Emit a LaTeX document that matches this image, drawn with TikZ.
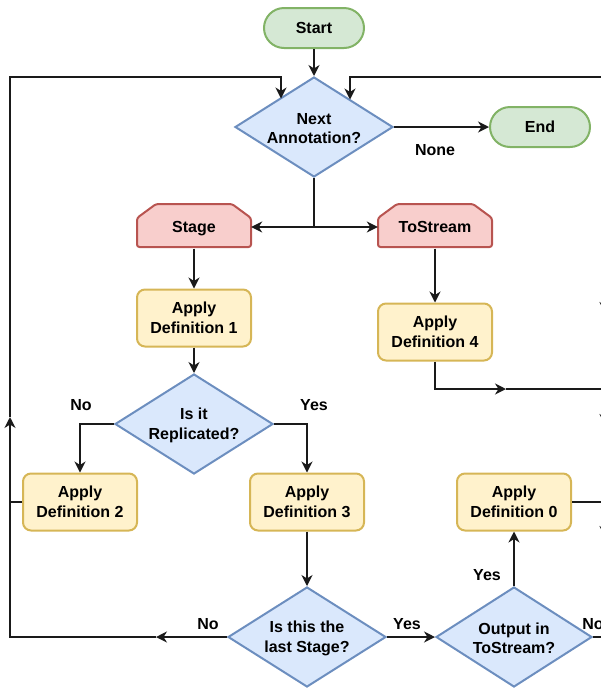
\documentclass[tikz,border=0pt]{standalone}
\usepackage{fontspec}
\setmainfont{Liberation Sans}
\usetikzlibrary{shapes.geometric,arrows.meta}
\definecolor{gF}{HTML}{D5E8D4}\definecolor{gS}{HTML}{82B366}
\definecolor{bF}{HTML}{DAE8FC}\definecolor{bS}{HTML}{6C8EBF}
\definecolor{rF}{HTML}{F8CECC}\definecolor{rS}{HTML}{B85450}
\definecolor{yF}{HTML}{FFF2CC}\definecolor{yS}{HTML}{D6B656}
\definecolor{ln}{HTML}{1A1A1A}
\begin{document}
\begin{tikzpicture}[x=1pt,y=-1pt,
  font=\fontsize{16}{19.5}\selectfont\bfseries,
  line/.style={line width=1.4pt, draw=ln},
  arr/.style={line, -{Stealth[length=11pt,width=11pt,inset=3.5pt]}},
  term/.style={rectangle, rounded corners=20pt, draw=gS, fill=gF, line width=2pt,
    minimum width=100pt, minimum height=40pt, inner sep=0pt},
  proc/.style={rectangle, rounded corners=8pt, draw=yS, fill=yF, line width=2pt,
    minimum width=114pt, minimum height=57pt, inner sep=0pt, align=center},
  dia/.style={diamond, draw=bS, fill=bF, line width=2pt, inner sep=0pt,
    minimum width=158pt, minimum height=100pt},
  lim/.style={rectangle, minimum width=114pt, minimum height=40pt, inner sep=0pt,
    text height=11.5pt, text depth=0pt},
  limshape/.style={draw=rS, fill=rF, line width=2pt, rounded corners=2.5pt},
  txt/.style={align=center, inner sep=0pt},
  lbl/.style={inner sep=0pt}]
\useasboundingbox (0,0) rectangle (601,689);
\clip (0,0) rectangle (601,689);

% terminals
\node[term] (start) at (314,28) {Start};
\node[term] (end) at (540,127) {End};

% diamonds
\node[dia] (next) at (314,127) {};
\node[txt] (nextT) at (314,128.5) {Next\\Annotation?};
\node[dia] (repl) at (194,424) {};
\node[txt] (replT) at (194,425.5) {Is it\\Replicated?};
\node[dia] (last) at (307,637) {};
\node[txt] (lastT) at (307,638.5) {Is this the\\last Stage?};
\node[dia, minimum width=156pt] (out) at (514,637) {};
\node[txt] (outT) at (514,638.5) {Output in\\ToStream?};

% loop limit shapes
\draw[limshape] (137,218) -- (156,204) -- (232,204) -- (251,218) -- (251,247) -- (137,247) -- cycle;
\node[lim] (stage) at (194,227) {Stage};
\draw[limshape] (378,218) -- (397,204) -- (473,204) -- (492,218) -- (492,247) -- (378,247) -- cycle;
\node[lim] (tostream) at (435,227) {ToStream};

% process boxes
\node[proc] (ad1) at (194,318) {Apply\\Definition 1};
\node[proc] (ad4) at (435,332) {Apply\\Definition 4};
\node[proc] (ad2) at (80,502) {Apply\\Definition 2};
\node[proc] (ad3) at (307,502) {Apply\\Definition 3};
\node[proc] (ad0) at (514,502) {Apply\\Definition 0};

% coordinates
\coordinate (split) at (314,227);
\coordinate (lA) at (156,637);
\coordinate (lB) at (10,637);
\coordinate (lC) at (10,417);
\coordinate (lD) at (10,77);
\coordinate (lE) at (281,77);
\coordinate (lF) at (281,98.5);
\coordinate (rA) at (610,77);
\coordinate (rB) at (350,77);
\coordinate (rC) at (350,99.5);
\coordinate (m4) at (506,389);
\coordinate (e4) at (610,389);
\coordinate (e0) at (610,502);
\coordinate (eN) at (610,637);
\coordinate (x1) at (605,313);
\coordinate (x2) at (605,425);
\coordinate (x3) at (605,537);

% connectors
\draw[arr] (start) -- (next);
\draw[arr] (next.east) -- (end.west);
\draw[line] (next.south) -- (split);
\draw[arr] (split) -- (stage.east);
\draw[arr] (split) -- (tostream.west);
\draw[arr] ([yshift=-1.5pt]stage.south) -- (ad1);
\draw[arr] ([yshift=-1.5pt]tostream.south) -- (ad4);
\draw[arr] (ad4.south) |- (m4);
\draw[line] (m4) -- (e4);
\draw[arr] (ad1) -- (repl);
\draw[arr] (repl.west) -| (ad2.north);
\draw[arr] (repl.east) -| (ad3.north);
\draw[arr] (ad3) -- (last);
\draw[arr] (last.east) -- (out.west);
\draw[arr] (out.north) -- (ad0.south);
\draw[line] (ad0.east) -- (e0);
\draw[line] (out.east) -- (eN);
\draw[arr] (last.west) -- (lA);
\draw[arr] (lA) -- (lB) -- (lC);
\draw[line] (ad2.west) -- (ad2.west -| lB);
\draw[arr] (lC) -- (lD) -- (lE) -- (lF);
\draw[arr] (rA) -- (rB) -- (rC);
\draw[arr] ([yshift=15pt]x1) -- (x1);
\draw[arr] ([yshift=15pt]x2) -- (x2);
\draw[arr] ([yshift=15pt]x3) -- (x3);

% labels
\node[lbl] (lNone) at (435,150) {None};
\node[lbl] (lNo1) at (81,405) {No};
\node[lbl] (lYes1) at (314,405) {Yes};
\node[lbl] (lNo2) at (208,624) {No};
\node[lbl] (lYes2) at (407,624) {Yes};
\node[lbl] (lYes3) at (487,575) {Yes};
\node[lbl] (lNo3) at (593,624) {No};
\end{tikzpicture}
\end{document}
